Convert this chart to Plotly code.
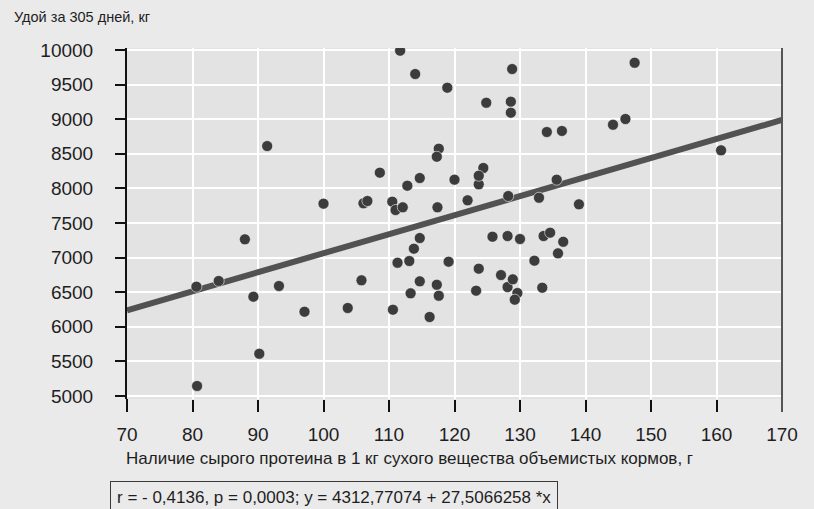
import plotly.graph_objects as go

# Crude protein per kg dry matter of roughage (g) vs. 305-day milk yield (kg)
protein_g = [
    80.6, 84.0, 80.7, 88.0, 89.3, 90.2, 91.4, 93.2, 97.1, 100.0,
    103.7, 105.8, 106.1, 106.7, 108.6, 110.6, 110.5, 111.0, 112.1, 111.7,
    112.8, 114.7, 114.0, 113.8, 114.7, 111.3, 113.1, 113.3, 114.7, 116.2,
    117.3, 117.6, 117.6, 117.3, 117.4, 118.9, 119.1, 120.0, 122.0, 123.3,
    123.7, 123.7, 124.4, 123.7, 124.85, 125.8, 127.1, 128.1, 128.1, 128.2,
    128.6, 128.6, 128.8, 128.9, 129.6, 129.2, 130.0, 132.2, 132.9, 133.4,
    133.6, 134.6, 134.1, 135.6, 135.8, 136.4, 136.6, 139.0, 144.2, 146.1,
    147.5, 160.7,
]
milk_kg = [
    6580, 6662, 5145, 7264, 6435, 5611, 8612, 6590, 6218, 7780,
    6272, 6672, 7785, 7818, 8227, 6247, 7808, 7688, 7727, 9990,
    8039, 8150, 9653, 7129, 7283, 6926, 6951, 6484, 6657, 6142,
    6608, 6449, 8574, 8458, 7727, 9455, 6941, 8126, 7828, 6522,
    6840, 8059, 8295, 8183, 9238, 7302, 6748, 7312, 6575, 7890,
    9253, 9094, 9725, 6686, 6488, 6392, 7269, 6956, 7865, 6565,
    7312, 7360, 8815, 8126, 7062, 8830, 7229, 7770, 8920, 9003,
    9816, 8550,
]

# Linear regression reported for the data
intercept = 4312.77074
slope = 27.5066258
fit_x = [70, 170]
fit_y = [intercept + slope * v for v in fit_x]

x_ticks = list(range(70, 171, 10))
y_ticks = list(range(5000, 10001, 500))

y_title = "Удой за 305 дней, кг"
x_title = "Наличие сырого протеина в 1 кг сухого вещества объемистых кормов, г"
stats_text = "r = - 0,4136, p = 0,0003; y = 4312,77074 + 27,5066258 *x"

FONT = "Liberation Sans, Arial, sans-serif"
INK = "#1e1e1e"

fig = go.Figure()

fig.add_trace(go.Scatter(
    x=fit_x, y=fit_y, mode="lines",
    line=dict(color="#525252", width=6),
    hoverinfo="skip", showlegend=False,
))

fig.add_trace(go.Scatter(
    x=protein_g, y=milk_kg, mode="markers",
    marker=dict(size=11, color="#3c3c3c",
                line=dict(color="rgba(255,255,255,0.55)", width=1)),
    showlegend=False,
))

fig.update_layout(
    width=814, height=509,
    margin=dict(l=127, r=32, t=48, b=110),
    paper_bgcolor="#eaeaea",
    plot_bgcolor="#e3e3e3",
    font=dict(family=FONT, color=INK),
    xaxis=dict(
        range=[70, 170], tickvals=x_ticks, ticktext=[str(v) for v in x_ticks],
        showgrid=True, gridcolor="#ffffff", gridwidth=2,
        zeroline=False, showline=False,
        ticks="outside", ticklen=12, tickwidth=2, tickcolor="#111111",
        ticklabelstandoff=6,
        tickfont=dict(size=19, color=INK),
    ),
    yaxis=dict(
        range=[4957, 10029], tickvals=y_ticks, ticktext=[str(v) for v in y_ticks],
        showgrid=True, gridcolor="#ffffff", gridwidth=2,
        zeroline=False, showline=True, linecolor="#111111", linewidth=2,
        ticks="outside", ticklen=10, tickwidth=2, tickcolor="#111111",
        ticklabelstandoff=18,
        tickfont=dict(size=19, color=INK),
    ),
    shapes=[
        dict(type="line", xref="paper", yref="paper",
             x0=1, x1=1, y0=-13 / 351, y1=1,
             line=dict(color="#555555", width=2)),
        dict(type="line", xref="paper", yref="paper",
             x0=0, x1=0, y0=-13 / 351, y1=0,
             line=dict(color="#111111", width=2)),
    ],
    annotations=[
        dict(text=y_title, xref="paper", yref="paper",
             x=-115 / 655, y=(48 - 17) / 351 + 1, xanchor="left", yanchor="middle",
             showarrow=False, font=dict(size=14.5, color=INK)),
        dict(text=x_title, xref="paper", yref="paper",
             x=-3 / 655, y=-(458 - 399) / 351, xanchor="left", yanchor="middle",
             showarrow=False, font=dict(size=17, color=INK)),
        dict(text=stats_text, xref="paper", yref="paper",
             x=-17 / 655, y=-(481 - 399) / 351, xanchor="left", yanchor="top",
             showarrow=False, font=dict(size=17, color=INK),
             bordercolor="#3a3a3a", borderwidth=1, borderpad=6,
             bgcolor="#eaeaea"),
    ],
)

fig.write_html("out.html")
